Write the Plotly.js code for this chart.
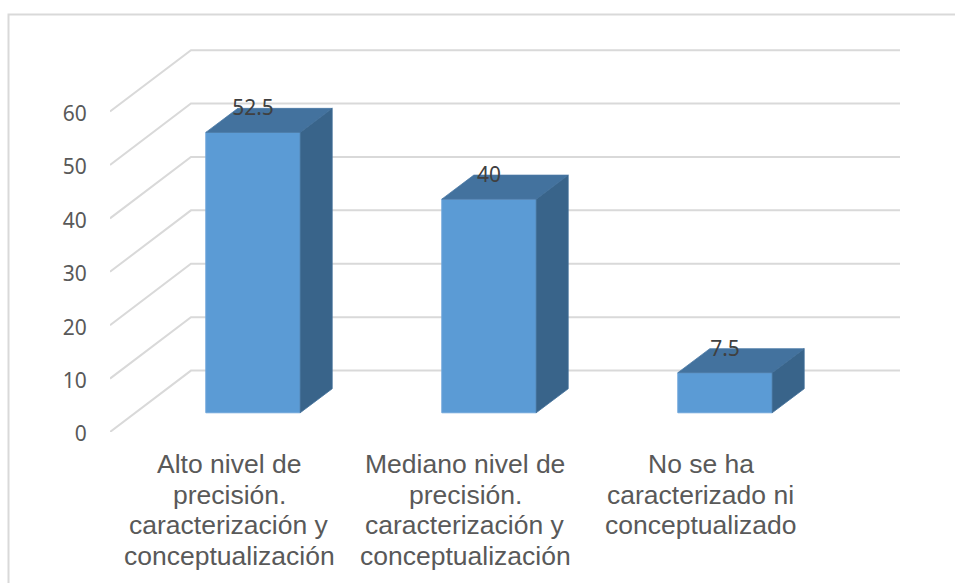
<!DOCTYPE html>
<html>
<head>
<meta charset="utf-8">
<script src="https://cdn.plot.ly/plotly-3.0.1.min.js"></script>
<style>html,body{margin:0;padding:0;background:#fff}</style>
</head>
<body>
<div id="chart" style="width:955px;height:583px"></div>
<script>
var categories = [
  ["Alto nivel de", "precisión.", "caracterización y", "conceptualización"],
  ["Mediano nivel de", "precisión.", "caracterización y", "conceptualización"],
  ["No se ha", "caracterizado ni", "conceptualizado"]
];
var positions = [0, 1, 2];
var values = [52.5, 40, 7.5];
var labels = ["52.5", "40", "7.5"];
var yTicks = [0, 10, 20, 30, 40, 50, 60];

// pseudo-3D geometry, in axis units
var xMin = -0.5, xMax = 2.8475, yMax = 73.4;
var wallDx = 0.343, wallDy = 11.5;     // floor depth of the chart
var barBase = 3.6, barOffset = -0.094, barWidth = 0.4;
var barDx = 0.1356, barDy = 4.5;       // depth of a bar
var labelDrop = 0.35;

var gridColor = "#d9d9d9";
var shapes = yTicks.map(function (v) {
  var x1 = xMin + wallDx, y1 = v + wallDy;
  return {
    type: "path", layer: "below", xref: "x", yref: "y",
    path: "M " + xMin + " " + v + " L " + x1 + " " + y1 + " L " + xMax + " " + y1,
    line: {color: gridColor, width: 2}
  };
});
// outer chart frame
var L = 110, W = 790, T = 40, H = 392;
function px(x) { return (x - L) / W; }
function py(y) { return (T + H - y) / H; }
shapes.push({type: "path", xref: "paper", yref: "paper", layer: "below",
  path: "M " + px(8.5) + " " + py(583) + " L " + px(8.5) + " " + py(14.5) + " L " + px(955) + " " + py(14.5),
  line: {color: gridColor, width: 2}});

var traces = [];
traces.push({
  type: "bar", x: positions, y: values, base: barBase, width: barWidth, offset: barOffset,
  marker: {color: "#5b9bd5", line: {color: "#6ea6da", width: 1}}, hoverinfo: "skip", showlegend: false
});
positions.forEach(function (p, i) {
  var xa = p + barOffset, xb = xa + barWidth, top = barBase + values[i];
  traces.push({ // top face
    type: "scatter", mode: "lines", fill: "toself", fillcolor: "#43729e",
    x: [xa, xb, xb + barDx, xa + barDx, xa],
    y: [top, top, top + barDy, top + barDy, top],
    line: {color: "#4a79a4", width: 0.8}, hoverinfo: "skip", showlegend: false
  });
  traces.push({ // side face
    type: "scatter", mode: "lines", fill: "toself", fillcolor: "#39648a",
    x: [xb, xb + barDx, xb + barDx, xb, xb],
    y: [barBase, barBase + barDy, top + barDy, top, barBase],
    line: {color: "#41709a", width: 0.8}, hoverinfo: "skip", showlegend: false
  });
});
traces.push({
  type: "scatter", mode: "text", cliponaxis: false,
  x: positions.map(function (p) { return p + barOffset + barWidth / 2; }),
  y: values.map(function (v) { return barBase + v + barDy - labelDrop; }),
  text: labels, textposition: "middle center",
  textfont: {family: "Noto Sans, sans-serif", size: 21, color: "#404040"},
  hoverinfo: "skip", showlegend: false
});

// category labels, one annotation per line for the reference's tight leading
var annotations = [];
categories.forEach(function (lines, i) {
  lines.forEach(function (line, j) {
    annotations.push({
      xref: "x", yref: "paper", x: positions[i], y: 0,
      xanchor: "center", yanchor: "middle", showarrow: false,
      xshift: 1, yshift: -(32 + 30.7 * j),
      text: line,
      font: {family: "Liberation Sans, Arial, sans-serif", size: 26.5, color: "#595959"}
    });
  });
});

var layout = {
  width: 955, height: 583,
  margin: {l: L, r: 955 - L - W, t: T, b: 583 - T - H, pad: 0},
  paper_bgcolor: "#ffffff", plot_bgcolor: "rgba(0,0,0,0)",
  showlegend: false, shapes: shapes, annotations: annotations,
  xaxis: {
    range: [xMin, xMax], tickmode: "array", tickvals: positions, showticklabels: false,
    showgrid: false, zeroline: false, showline: false, ticks: "",
    automargin: false
  },
  yaxis: {
    range: [0, yMax], tickmode: "array", tickvals: yTicks,
    showgrid: false, zeroline: false, showline: false,
    ticks: "outside", ticklen: 18, tickcolor: "rgba(0,0,0,0)",
    ticklabelshift: 2,
    tickfont: {family: "Noto Sans, sans-serif", size: 21, color: "#595959"},
    automargin: false
  }
};
Plotly.newPlot("chart", traces, layout, {displayModeBar: false, staticPlot: true});
</script>
</body>
</html>
